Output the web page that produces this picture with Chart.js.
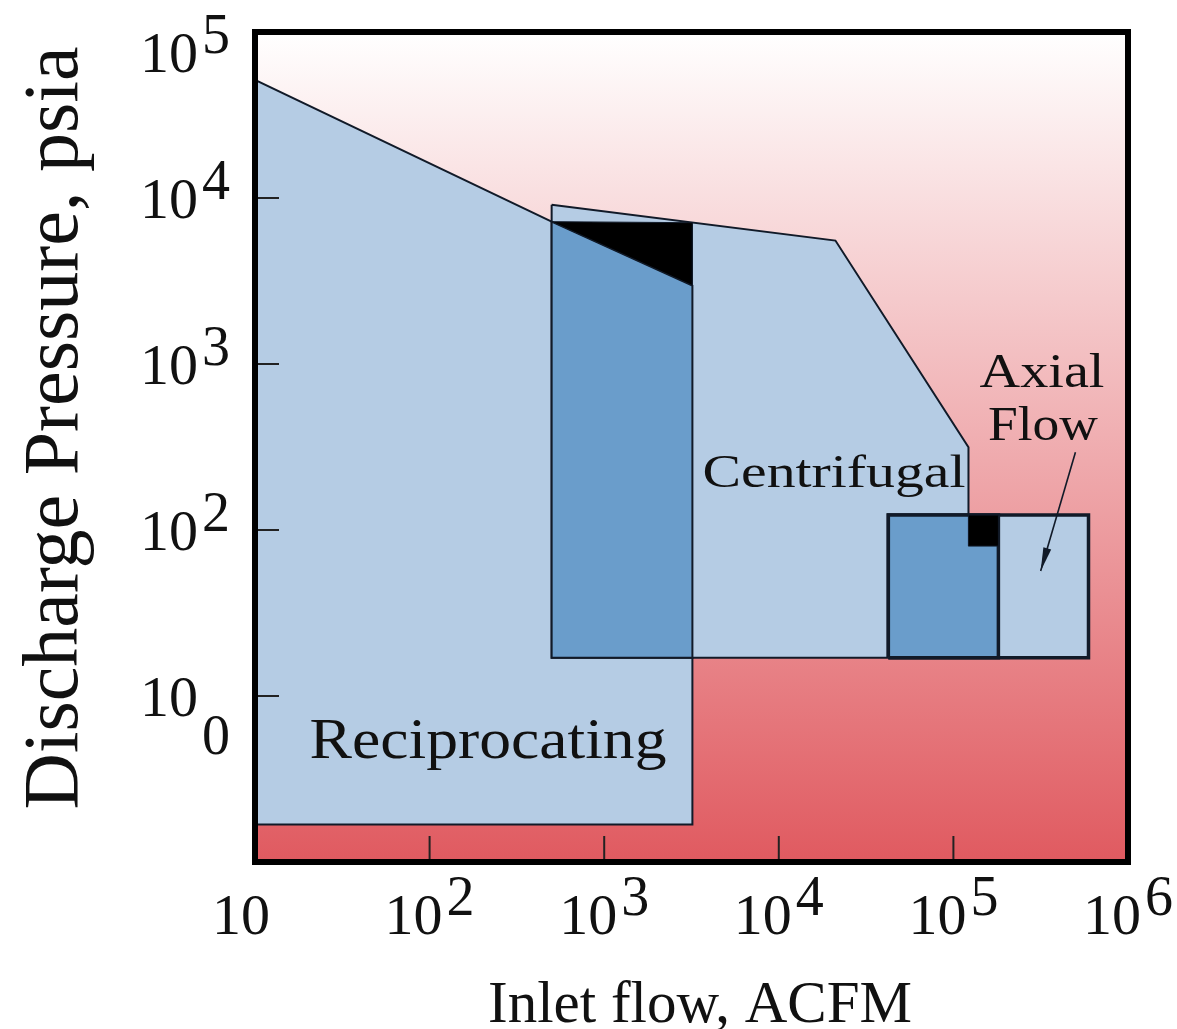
<!DOCTYPE html>
<html>
<head>
<meta charset="utf-8">
<script src="https://cdn.jsdelivr.net/npm/chart.js@4.4.0/dist/chart.umd.min.js"></script>
<style>
  html, body { margin: 0; padding: 0; background: #fff; }
  canvas { display: block; }
</style>
</head>
<body>
<canvas id="myChart" width="1177" height="1029"></canvas>
<script>
// outlines of the operating regions, as [inlet flow ACFM, discharge pressure psia]
const reciprocating = [[10, 51400], [500, 7200], [3200, 2970], [3200, 1.68], [10, 1.68], [10, 51400]];
const centrifugal = [[500, 9100], [21100, 5540], [122000, 315], [122000, 17], [500, 17], [500, 9100]];
const recipCentOverlap = [[500, 7200], [3200, 2970], [3200, 17], [500, 17], [500, 7200]];
const blackWedge = [[500, 7200], [3200, 7100], [3200, 2970], [500, 7200]];
const axialBox = [[42400, 17], [594000, 17], [594000, 123], [42400, 123], [42400, 17]];
const centAxialOverlap = [[42400, 17], [181000, 17], [181000, 123], [42400, 123], [42400, 17]];
const blackSquare = [[122000, 80], [181000, 80], [181000, 123], [122000, 123], [122000, 80]];
const axialArrow = [[500000, 294], [316000, 56.6]];

const xTicks = [10, 1e2, 1e3, 1e4, 1e5, 1e6];
const xTickLabels = ['10', '10^2', '10^3', '10^4', '10^5', '10^6'];
const yTicks = [10, 1e2, 1e3, 1e4, 1e5];
const yTickLabels = ['10_0', '10^2', '10^3', '10^4', '10^5'];

const FONT = '"Liberation Serif", "Times New Roman", serif';
const LIGHT = '#b5cce4';
const DARK = '#6a9dcb';
const EDGE = '#111a28';

function layer(label, pts, color, width) {
  return {
    label: label,
    data: pts.map(p => ({ x: p[0], y: p[1] })),
    showLine: true,
    fill: 'shape',
    backgroundColor: color,
    borderColor: EDGE,
    borderWidth: width,
    pointRadius: 0,
    tension: 0
  };
}

// bottom layer first
const layers = [
  layer('Reciprocating', reciprocating, LIGHT, 2),
  layer('Centrifugal', centrifugal, LIGHT, 2),
  layer('overlap', recipCentOverlap, DARK, 2),
  layer('wedge', blackWedge, '#000', 1),
  layer('Axial Flow', axialBox, LIGHT, 3.5),
  layer('overlap 2', centAxialOverlap, DARK, 3.5),
  layer('square', blackSquare, '#000', 1),
  {
    label: 'arrow',
    data: axialArrow.map(p => ({ x: p[0], y: p[1] })),
    showLine: true, fill: false, borderColor: EDGE, borderWidth: 1.6, pointRadius: 0
  }
];
layers.forEach((d, i) => { d.order = layers.length - i; });

function powerLabel(ctx, label, x, base, align) {
  const sup = label.indexOf('^') >= 0;
  const parts = label.split(/[\^_]/);
  ctx.font = '58px ' + FONT;
  const w1 = ctx.measureText(parts[0]).width;
  let w2 = 0;
  if (parts[1]) { ctx.font = '56px ' + FONT; w2 = ctx.measureText(parts[1]).width + 4; }
  let left = align === 'right' ? x - w1 - w2 : x - (w1 + w2) / 2;
  if (!parts[1] && align !== 'right') left -= 14;
  ctx.textAlign = 'left';
  ctx.font = '58px ' + FONT;
  ctx.fillText(parts[0], left, base);
  if (parts[1]) {
    ctx.font = '56px ' + FONT;
    ctx.fillText(parts[1], left + w1 + 4, sup ? base - 19 : base + 38);
  }
}

function fitText(ctx, txt, cx, base, size, width) {
  ctx.font = size + 'px ' + FONT;
  const w = ctx.measureText(txt).width;
  ctx.save();
  ctx.translate(cx, base);
  ctx.scale(width / w, 1);
  ctx.textAlign = 'center';
  ctx.fillText(txt, 0, 0);
  ctx.restore();
}

const decor = {
  id: 'decor',
  beforeDatasetsDraw(chart) {
    const { ctx, chartArea: a } = chart;
    const g = ctx.createLinearGradient(0, a.top, 0, a.bottom);
    g.addColorStop(0, '#ffffff');
    g.addColorStop(1, '#e05a60');
    ctx.save();
    ctx.fillStyle = g;
    ctx.fillRect(a.left, a.top, a.right - a.left, a.bottom - a.top);
    ctx.restore();
  },
  afterDatasetsDraw(chart) {
    const { ctx, chartArea: a, scales: { x, y } } = chart;
    ctx.save();

    // arrow head
    const x0 = x.getPixelForValue(axialArrow[0][0]), y0 = y.getPixelForValue(axialArrow[0][1]);
    const x1 = x.getPixelForValue(axialArrow[1][0]), y1 = y.getPixelForValue(axialArrow[1][1]);
    const ang = Math.atan2(y1 - y0, x1 - x0);
    ctx.fillStyle = EDGE;
    ctx.beginPath();
    ctx.moveTo(x1, y1);
    ctx.lineTo(x1 - 24 * Math.cos(ang - 0.17), y1 - 24 * Math.sin(ang - 0.17));
    ctx.lineTo(x1 - 24 * Math.cos(ang + 0.17), y1 - 24 * Math.sin(ang + 0.17));
    ctx.closePath();
    ctx.fill();

    // tick marks pointing inwards
    ctx.strokeStyle = '#222';
    ctx.lineWidth = 2;
    yTicks.forEach(v => {
      const py = y.getPixelForValue(v);
      ctx.beginPath(); ctx.moveTo(a.left, py); ctx.lineTo(a.left + 24, py); ctx.stroke();
    });
    xTicks.forEach(v => {
      const px = x.getPixelForValue(v);
      ctx.beginPath(); ctx.moveTo(px, a.bottom); ctx.lineTo(px, a.bottom - 26); ctx.stroke();
    });

    // frame
    ctx.strokeStyle = '#000';
    ctx.lineWidth = 6;
    ctx.strokeRect(a.left, a.top, a.right - a.left, a.bottom - a.top);

    // tick labels
    ctx.fillStyle = '#111';
    ctx.textBaseline = 'alphabetic';
    xTicks.forEach((v, i) => powerLabel(ctx, xTickLabels[i], x.getPixelForValue(v), 934, 'center'));
    yTicks.forEach((v, i) => {
      const base = Math.max(y.getPixelForValue(v) + 20, 72);
      powerLabel(ctx, yTickLabels[i], 230, base, 'right');
    });

    // region labels
    fitText(ctx, 'Reciprocating', 488, 758, 56, 357);
    fitText(ctx, 'Centrifugal', 834, 487, 46, 263);
    fitText(ctx, 'Axial', 1042, 387, 48, 125);
    fitText(ctx, 'Flow', 1043, 440, 48, 110);

    // axis titles
    ctx.textAlign = 'center';
    ctx.font = '59px ' + FONT;
    ctx.fillText('Inlet flow, ACFM', 700, 1022);
    ctx.save();
    ctx.translate(77, 428);
    ctx.rotate(-Math.PI / 2);
    ctx.font = '78px ' + FONT;
    ctx.fillText('Discharge Pressure, psia', 0, 0);
    ctx.restore();

    ctx.restore();
  }
};

new Chart(document.getElementById('myChart').getContext('2d'), {
  type: 'scatter',
  data: { datasets: layers },
  options: {
    responsive: false,
    animation: false,
    events: [],
    layout: { padding: { left: 255, top: 32, right: 49, bottom: 167 } },
    scales: {
      x: { type: 'logarithmic', min: 10, max: 1e6, display: false },
      y: { type: 'logarithmic', min: 1, max: 1e5, display: false }
    },
    plugins: { legend: { display: false }, tooltip: { enabled: false } }
  },
  plugins: [decor]
});
</script>
</body>
</html>
